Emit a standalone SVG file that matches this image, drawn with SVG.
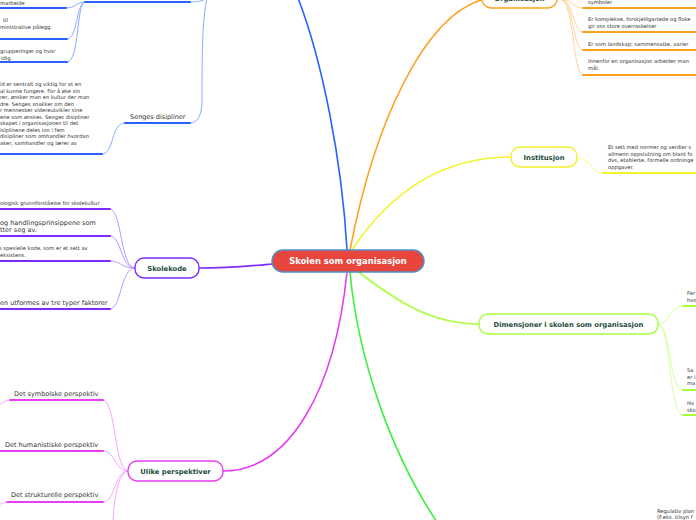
<svg xmlns="http://www.w3.org/2000/svg" width="696" height="520" viewBox="0 0 696 520">
<style>
.bg{fill:#fff}
.c{fill:none;stroke-linecap:round}
.main{stroke-width:1.6}
.sub{stroke-width:0.9}
.ul{stroke-width:2}
.nr{fill:#fff;stroke-width:1.4}
.nt{font-family:"DejaVu Sans",Verdana,sans-serif;font-weight:bold;font-size:6.8px;fill:#1d4d3b;text-anchor:middle}
.lb{font-family:"DejaVu Sans",Verdana,sans-serif;font-size:6.5px;fill:#333}
.sm{font-family:"DejaVu Sans",Verdana,sans-serif;font-size:5.2px;fill:#333}
.blue{stroke:#2962ff}.lblue{stroke:#7da3ff}
.pur{stroke:#7f2bff}.lpur{stroke:#b08cff}
.mag{stroke:#e63ef0}.lmag{stroke:#f39cf7}
.ora{stroke:#ffa01f}.lora{stroke:#ffcf8f}
.yel{stroke:#f2f22e}.lyel{stroke:#f7f77a}
.chr{stroke:#a8ff3c}.lchr{stroke:#cfff94}
.grn{stroke:#3cf03c}
</style>
<rect class="bg" x="0" y="0" width="696" height="520"/>
<g id="connectors">
  <!-- main branches -->
  <path class="c main blue" d="M347,250 C342,160 322,60 298,-2"/>
  <path class="c main ora" d="M350,250 C375,120 425,15 484,-1"/>
  <path class="c main yel" d="M352,250 C395,185 450,157 511,157"/>
  <path class="c main chr" d="M356,270 C395,300 430,324 479,324"/>
  <path class="c main grn" d="M350,272 C358,360 392,455 437,522"/>
  <path class="c main mag" d="M347,272 C335,390 290,471 223,471"/>
  <path class="c main pur" d="M199,268 C230,268 250,266 272,264"/>
  <!-- blue sub -->
  <path class="c sub lblue" d="M207,-2 C202,20 202,60 202,100 C202,115 198,123 190,123"/>
  <path class="c sub lblue" d="M190,2 C198,2 203,1 207,-2"/>
  <path class="c sub lblue" d="M85,2 C76,2 76,8 66,8"/>
  <path class="c sub lblue" d="M85,2 C76,2 78,39 67,39"/>
  <path class="c sub lblue" d="M85,2 C76,2 80,62 67,62"/>
  <path class="c sub lblue" d="M125,123 C110,123 115,154 102,154"/>
  <path class="c ul blue" d="M85,2 L190,2"/>
  <path class="c ul blue" d="M0,8 L66,8"/>
  <path class="c ul blue" d="M0,39 L67,39"/>
  <path class="c ul blue" d="M0,62 L67,62"/>
  <path class="c ul blue" d="M125,123 L190,123"/>
  <path class="c ul blue" d="M0,154 L102,154"/>
  <!-- purple sub -->
  <path class="c sub lpur" d="M135,268 C120,268 122,209 110,209"/>
  <path class="c sub lpur" d="M135,268 C120,268 122,236 110,236"/>
  <path class="c sub lpur" d="M135,268 C120,268 122,261 110,261"/>
  <path class="c sub lpur" d="M135,268 C120,268 122,309 110,309"/>
  <path class="c ul pur" d="M0,209 L110,209"/>
  <path class="c ul pur" d="M0,236 L110,236"/>
  <path class="c ul pur" d="M0,261 L110,261"/>
  <path class="c ul pur" d="M0,309 L110,309"/>
  <!-- magenta sub -->
  <path class="c sub lmag" d="M128,471 C114,471 116,400 103,400"/>
  <path class="c sub lmag" d="M128,471 C114,471 116,451 103,451"/>
  <path class="c sub lmag" d="M128,471 C114,471 116,502 103,502"/>
  <path class="c sub lmag" d="M128,471 C118,471 114,500 113,522"/>
  <path class="c sub lmag" d="M10,400 C4,400 3,404 -2,405"/>
  <path class="c ul mag" d="M10,400 L103,400"/>
  <path class="c ul mag" d="M0,451 L103,451"/>
  <path class="c ul mag" d="M7,502 L103,502"/>
  <path class="c sub lmag" d="M7,502 C3,502 2,504 -2,505"/>
  <!-- orange sub -->
  <path class="c sub lora" d="M560,-1 C575,0 572,8 583,8"/>
  <path class="c sub lora" d="M560,-1 C575,0 572,32 583,32"/>
  <path class="c sub lora" d="M560,-1 C575,0 572,50 583,50"/>
  <path class="c sub lora" d="M560,-1 C575,0 572,75 583,75"/>
  <path class="c ul ora" d="M583,8 L698,8"/>
  <path class="c ul ora" d="M583,32 L698,32"/>
  <path class="c ul ora" d="M583,50 L698,50"/>
  <path class="c ul ora" d="M583,75 L698,75"/>
  <!-- yellow sub -->
  <path class="c sub lyel" d="M577,158 C592,158 590,173 603,173"/>
  <path class="c ul yel" d="M603,173 L698,173"/>
  <!-- chartreuse sub -->
  <path class="c sub lchr" d="M658,324 C670,324 670,306 683,306"/>
  <path class="c sub lchr" d="M658,324 C672,326 668,390 683,390"/>
  <path class="c sub lchr" d="M658,324 C672,326 668,415 683,415"/>
  <path class="c ul chr" d="M683,306 L698,306"/>
  <path class="c ul chr" d="M683,390 L698,390"/>
  <path class="c ul chr" d="M683,415 L698,415"/>
</g>
<g id="center">
  <rect x="272" y="250" width="152" height="22" rx="11" fill="#e8453c" stroke="#4d8fcc" stroke-width="1.5"/>
  <text x="348" y="264.3" font-family="DejaVu Sans, Verdana, sans-serif" font-weight="bold" font-size="8.4" fill="#fff" text-anchor="middle">Skolen som organisasjon</text>
</g>
<g id="organisasjon">
  <rect class="nr ora" x="482" y="-14" width="75" height="22" rx="9"/>
  <text class="nt" x="519.5" y="1">Organisasjon</text>
</g>
<g id="institusjon">
  <rect class="nr yel" x="511" y="147" width="66" height="20" rx="9"/>
  <text class="nt" x="544" y="159.5">Institusjon</text>
</g>
<g id="dimensjoner">
  <rect class="nr chr" x="479" y="314" width="179" height="20" rx="9"/>
  <text class="nt" x="568.5" y="326.5">Dimensjoner i skolen som organisasjon</text>
</g>
<g id="skolekode">
  <rect class="nr pur" x="135" y="258" width="64" height="20" rx="9"/>
  <text class="nt" x="167" y="270.5">Skolekode</text>
</g>
<g id="ulike">
  <rect class="nr mag" x="128" y="461" width="95" height="20" rx="9"/>
  <text class="nt" x="175.5" y="473.5">Ulike perspektiver</text>
</g>
<g id="blue-leaves">
  <text class="sm" x="0" y="5">marbeide</text>
  <text class="sm" x="3" y="22">til</text>
  <text class="sm" x="0" y="28.5">ministrative pålegg.</text>
  <text class="sm" x="0" y="53">grupperinger og hvor</text>
  <text class="sm" x="1" y="59.5">idig.</text>
  <text class="lb" x="130" y="119">Senges disipliner</text>
  <text class="sm" x="0" y="86">id er sentralt og viktig for at en</text>
  <text class="sm" x="0" y="92.5">al kunne fungere. For å øke sin</text>
  <text class="sm" x="0" y="99">rer, ønsker man en kultur der man</text>
  <text class="sm" x="0" y="105.5">dre. Senges snakker om den</text>
  <text class="sm" x="0" y="112">r mennesker videreutvikler sine</text>
  <text class="sm" x="0" y="118.5">ene som ønskes. Senges disipliner</text>
  <text class="sm" x="0" y="125">skapet i organisasjonen til det</text>
  <text class="sm" x="0" y="131.5">isiplinene deles inn i fem</text>
  <text class="sm" x="0" y="138">disipliner som omhandler hvordan</text>
  <text class="sm" x="0" y="144.5">aker, samhandler og lærer av</text>
</g>
<g id="skolekode-leaves">
  <text class="sm" x="0" y="205">ologisk grunnforståelse for skolekultur</text>
  <text class="lb" x="0" y="224.5">og handlingsprinsippene som</text>
  <text class="lb" x="0" y="231.5">tter seg av.</text>
  <text class="sm" x="-1" y="250">s spesielle kode, som er et sett av</text>
  <text class="sm" x="0" y="256.5">eksistens.</text>
  <text class="lb" x="0" y="304.5">en utformes av tre typer faktorer</text>
</g>
<g id="perspektiv-leaves">
  <text class="lb" x="14" y="395.5">Det symbolske perspektiv</text>
  <text class="lb" x="5" y="446.5">Det humanistiske perspektiv</text>
  <text class="lb" x="11" y="496.5">Det strukturelle perspektiv</text>
</g>
<g id="organisasjon-leaves">
  <text class="sm" x="588" y="4">symboler</text>
  <text class="sm" x="588" y="21">Er komplekse, forskjelligartede og floke</text>
  <text class="sm" x="588" y="28">gir oss store overraskelser</text>
  <text class="sm" x="588" y="46">Er som landskap; sammensatte, varier</text>
  <text class="sm" x="588" y="63">Innenfor en organisasjon arbeider man</text>
  <text class="sm" x="588" y="70">mål.</text>
</g>
<g id="institusjon-leaves">
  <text class="sm" x="608" y="149">Et sett med normer og verdier s</text>
  <text class="sm" x="608" y="155.5">allmenn oppslutning om blant fo</text>
  <text class="sm" x="608" y="162">dvs, etablerte, formelle ordninge</text>
  <text class="sm" x="608" y="168.5">oppgaver.</text>
</g>
<g id="dimensjoner-leaves">
  <text class="sm" x="687" y="295">Fer</text>
  <text class="sm" x="687" y="301.5">hvo</text>
  <text class="sm" x="687" y="372">Sa</text>
  <text class="sm" x="687" y="378.5">er i</text>
  <text class="sm" x="687" y="385">ma</text>
  <text class="sm" x="687" y="405">Hv</text>
  <text class="sm" x="687" y="411.5">sko</text>
</g>
<g id="green-leaves">
  <text class="sm" x="657" y="513">Regulativ plan</text>
  <text class="sm" x="657" y="519">(F.eks. tilsyn f</text>
</g>
</svg>
